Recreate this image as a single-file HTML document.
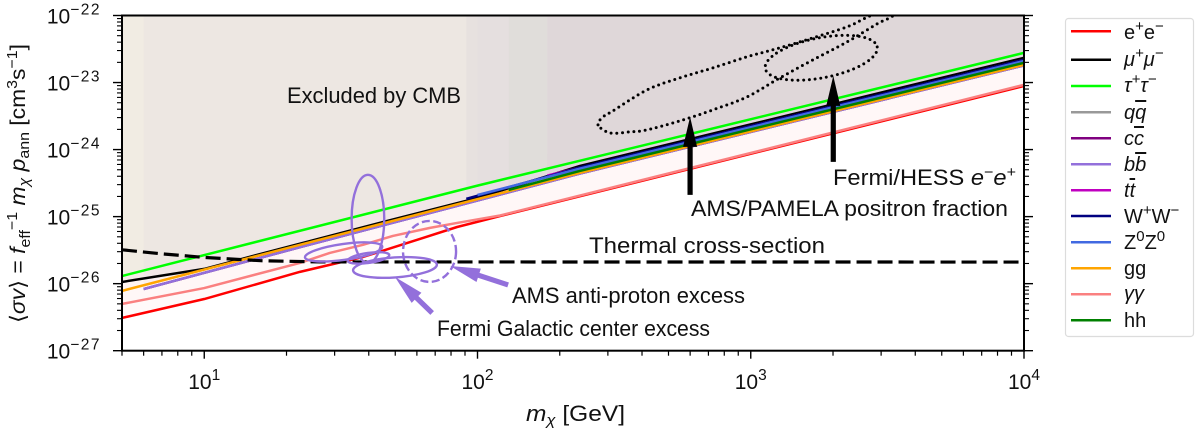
<!DOCTYPE html>
<html lang="en">
<head>
<meta charset="utf-8">
<title>Dark matter annihilation cross-section limits</title>
<style>
html,body{margin:0;padding:0;background:#fff;width:1200px;height:428px;overflow:hidden}
svg{display:block;font-family:"Liberation Sans","DejaVu Sans",sans-serif;fill:#111}
.it{font-style:italic}
</style>
</head>
<body>
<svg id="chart" xmlns="http://www.w3.org/2000/svg" width="1200" height="428" viewBox="0 0 1200 428">
  <defs><clipPath id="plot-clip"><rect x="122" y="15.5" width="902" height="335.2"/></clipPath></defs>
  <g id="fills" clip-path="url(#plot-clip)"></g>
  <g id="lines" clip-path="url(#plot-clip)"></g>
  <g id="regions" clip-path="url(#plot-clip)"></g>
  <g id="arrows"></g>
  <g id="axes"></g>

  <text x="287" y="103" font-size="22" textLength="174" lengthAdjust="spacingAndGlyphs">Excluded by CMB</text>
  <text x="589" y="253" font-size="22" textLength="236" lengthAdjust="spacingAndGlyphs">Thermal cross-section</text>
  <text x="512" y="303" font-size="22" textLength="233" lengthAdjust="spacingAndGlyphs">AMS anti-proton excess</text>
  <text x="437" y="336" font-size="22" textLength="273" lengthAdjust="spacingAndGlyphs">Fermi Galactic center excess</text>
  <text x="691" y="216" font-size="22" textLength="317" lengthAdjust="spacingAndGlyphs">AMS/PAMELA positron fraction</text>
  <text x="833" y="185" font-size="22" textLength="183" lengthAdjust="spacingAndGlyphs">Fermi/HESS <tspan class="it">e</tspan><tspan font-size="15" dy="-8">−</tspan><tspan class="it" dy="8">e</tspan><tspan font-size="15" dy="-8">+</tspan></text>

  <text x="526" y="421" font-size="22" textLength="99" lengthAdjust="spacingAndGlyphs"><tspan class="it">m</tspan><tspan class="it" font-size="15" dy="4">χ</tspan><tspan dy="-4"> [GeV]</tspan></text>
  <text transform="translate(25,323) rotate(-90)" font-size="21.5" textLength="279" lengthAdjust="spacingAndGlyphs">⟨<tspan class="it">σv</tspan>⟩ = <tspan class="it">f</tspan><tspan font-size="15" dy="5">eff</tspan><tspan font-size="15" dy="-13">−1</tspan><tspan dy="8"> </tspan><tspan class="it">m</tspan><tspan class="it" font-size="15" dy="4">χ</tspan><tspan class="it" dy="-4"> p</tspan><tspan font-size="15" dy="4">ann</tspan><tspan dy="-4">  [cm</tspan><tspan font-size="15" dy="-8">3</tspan><tspan dy="8">s</tspan><tspan font-size="15" dy="-8">−1</tspan><tspan dy="8">]</tspan></text>

  <g font-size="20">
    <rect x="1065.5" y="18.5" width="128" height="318" rx="3" fill="#fff" stroke="#dcdcdc" stroke-width="1.2"/>
    <g><line x1="1071" x2="1111" y1="31.3" y2="31.3" stroke="#ff0000" stroke-width="2.5"/><text x="1124" y="39">e<tspan font-size="15" dy="-8">+</tspan><tspan dy="8">e</tspan><tspan font-size="15" dy="-8">−</tspan></text></g>
    <g><line x1="1071" x2="1111" y1="59.7" y2="59.7" stroke="#000" stroke-width="2.5"/><text x="1124" y="66" class="it">μ<tspan font-size="15" dy="-8">+</tspan><tspan dy="8">μ</tspan><tspan font-size="15" dy="-8">−</tspan></text></g>
    <g><line x1="1071" x2="1111" y1="86" y2="86" stroke="#00ff00" stroke-width="2.5"/><text x="1124" y="92" class="it">τ<tspan font-size="15" dy="-8">+</tspan><tspan dy="8">τ</tspan><tspan font-size="15" dy="-8">−</tspan></text></g>
    <g><line x1="1071" x2="1111" y1="112.3" y2="112.3" stroke="#999" stroke-width="2.5"/><text x="1124" y="119" class="it">q<tspan text-decoration="overline">q</tspan></text></g>
    <g><line x1="1071" x2="1111" y1="138.3" y2="138.3" stroke="#800080" stroke-width="2.5"/><text x="1124" y="145" class="it">c<tspan text-decoration="overline">c</tspan></text></g>
    <g><line x1="1071" x2="1111" y1="164.3" y2="164.3" stroke="#9370db" stroke-width="2.5"/><text x="1124" y="171" class="it">b<tspan text-decoration="overline">b</tspan></text></g>
    <g><line x1="1071" x2="1111" y1="190.3" y2="190.3" stroke="#c000c0" stroke-width="2.5"/><text x="1124" y="197" class="it">t<tspan text-decoration="overline">t</tspan></text></g>
    <g><line x1="1071" x2="1111" y1="216" y2="216" stroke="#000080" stroke-width="2.5"/><text x="1124" y="223">W<tspan font-size="15" dy="-8">+</tspan><tspan dy="8">W</tspan><tspan font-size="15" dy="-8">−</tspan></text></g>
    <g><line x1="1071" x2="1111" y1="242.3" y2="242.3" stroke="#4169e1" stroke-width="2.5"/><text x="1124" y="249">Z<tspan font-size="15" dy="-8">0</tspan><tspan dy="8">Z</tspan><tspan font-size="15" dy="-8">0</tspan></text></g>
    <g><line x1="1071" x2="1111" y1="268.3" y2="268.3" stroke="#ffa500" stroke-width="2.5"/><text x="1124" y="275">gg</text></g>
    <g><line x1="1071" x2="1111" y1="294.3" y2="294.3" stroke="#fa8080" stroke-width="2.5"/><text x="1124" y="300" class="it">γγ</text></g>
    <g><line x1="1071" x2="1111" y1="320.3" y2="320.3" stroke="#008000" stroke-width="2.5"/><text x="1124" y="327">hh</text></g>
  </g>
</svg>
<script>
// ---- data: annihilation channels ----
const massEE = [5, 10, 22.4, 38.1, 63.2, 84.2, 121, 10000];
const sigmaEE = [3.08e-27, 5.9e-27, 1.5e-26, 2.5e-26, 4.8e-26, 7.0e-26, 1.02e-25, 8.9e-24];
const massMuMu = [5, 10, 13.5, 45, 100, 237, 10000];
const sigmaMuMu = [1.06e-26, 1.66e-26, 2.3e-26, 8.3e-26, 1.9e-25, 5.7e-25, 2.34e-23];
const massTauTau = [5, 100, 10000];
const sigmaTauTau = [1.3e-26, 2.9e-25, 2.77e-23];
const massQQ = [6, 22.4, 237, 10000];
const sigmaQQ = [8.3e-27, 3.5e-26, 4.4e-25, 1.8e-23];
const massCC = [6, 22.4, 237, 10000];
const sigmaCC = [8.3e-27, 3.5e-26, 4.4e-25, 1.8e-23];
const massBB = [6, 22.4, 237, 10000];
const sigmaBB = [8.3e-27, 3.5e-26, 4.4e-25, 1.8e-23];
const massTT = [180, 10000];
const sigmaTT = [4.1e-25, 2.18e-23];
const massWW = [91, 237, 10000];
const sigmaWW = [1.84e-25, 5.4e-25, 2.18e-23];
const massZZ = [100, 237, 10000];
const sigmaZZ = [2.1e-25, 5.2e-25, 2.1e-23];
const massGG = [5, 22.4, 237, 10000];
const sigmaGG = [7.8e-27, 3.8e-26, 4.5e-25, 1.84e-23];
const massGammaGamma = [5, 10, 22.4, 28.8, 38.1, 49, 67, 84.2, 121, 10000];
const sigmaGammaGamma = [4.98e-27, 8.6e-27, 2.04e-26, 2.87e-26, 3.8e-26, 5.15e-26, 6.8e-26, 8.05e-26, 1.04e-25, 9.25e-24];
const massHH = [130, 237, 10000];
const sigmaHH = [2.5e-25, 4.8e-25, 1.97e-23];
const massThermal = [5, 6.9, 10, 16.1, 26.6, 10000];
const sigmaThermal = [3.2e-26, 2.8e-26, 2.46e-26, 2.2e-26, 2.11e-26, 2.1e-26];

// ---- signal regions (log10 mass, log10 sigma, semi-axes in decades, tilt) ----
const regionLogMass = [1.599, 1.510, 1.601, 1.698, 1.8245, 3.258];
const regionLogSigma = [-25.034, -25.527, -25.616, -25.758, -25.519, -22.631];
const regionSemiMass = [0.0597, 0.1428, 0.0769, 0.1537, 0.097, 0.2086];
const regionSemiSigma = [0.657, 0.119, 0.0746, 0.149, 0.455, 0.2985];
const regionTilt = [0, -8, -8, -4, 0, -11];
const regionKind = ['solid', 'solid', 'solid', 'solid', 'dashed', 'dotted'];

// ---- AMS/PAMELA contour (log10 mass, log10 sigma) ----
const contourLogMass = [2.441, 2.460, 2.496, 2.621, 2.741, 2.862, 2.987, 3.107, 3.228, 3.353, 3.430, 3.547, 3.602, 3.565, 3.521, 3.463, 3.353, 3.228, 3.107, 2.987, 2.862, 2.741, 2.621, 2.558, 2.485, 2.441];
const contourLogSigma = [-23.631, -23.512, -23.422, -23.109, -22.930, -22.781, -22.616, -22.482, -22.333, -22.169, -22.019, -21.81, -21.721, -21.825, -22.004, -22.124, -22.393, -22.661, -22.930, -23.213, -23.407, -23.572, -23.706, -23.736, -23.751, -23.676];

// ---- annotation arrows (log10 values) ----
const arrowTailLogMass = [2.778, 3.302, 2.112, 1.834];
const arrowTailLogSigma = [-24.676, -24.184, -26.019, -26.437];
const arrowTipLogMass = [2.778, 3.302, 1.900, 1.698];
const arrowTipLogSigma = [-23.512, -22.9, -25.736, -25.9];
const arrowColor = ['#000', '#000', '#9370db', '#9370db'];

// ---- ticks ----
const xTickExponents = [1, 2, 3, 4];
const yTickExponents = [-27, -26, -25, -24, -23, -22];
const minorMultipliers = [2, 3, 4, 5, 6, 7, 8, 9];

const seriesMass = [massEE, massMuMu, massTauTau, massQQ, massCC, massBB, massTT, massWW, massZZ, massGG, massGammaGamma, massHH];
const seriesSigma = [sigmaEE, sigmaMuMu, sigmaTauTau, sigmaQQ, sigmaCC, sigmaBB, sigmaTT, sigmaWW, sigmaZZ, sigmaGG, sigmaGammaGamma, sigmaHH];
const seriesKey = ['ee', 'mumu', 'tautau', 'qq', 'cc', 'bb', 'tt', 'ww', 'zz', 'gg', 'gamma-gamma', 'hh'];
const seriesColor = ['#ff0000', '#000000', '#00ff00', '#999999', '#800080', '#9370db', '#c000c0', '#000080', '#4169e1', '#ffa500', '#fa8080', '#008000'];
const seriesFillAlpha = [0.025, 0.035, 0.02, 0, 0, 0.035, 0.025, 0.025, 0.01, 0.025, 0.015, 0.02];

const NS = 'http://www.w3.org/2000/svg';
const plotLeft = 122, plotRight = 1024, plotTop = 15.5, plotBottom = 350.7;
const xMin = 5, xMax = 10000, yMin = 1e-27, yMax = 1e-22;
function xLog(l) { return plotLeft + (l - Math.log10(xMin)) / (Math.log10(xMax) - Math.log10(xMin)) * (plotRight - plotLeft); }
function yLog(l) { return plotBottom - (l - Math.log10(yMin)) / (Math.log10(yMax) - Math.log10(yMin)) * (plotBottom - plotTop); }
function xScale(m) { return xLog(Math.log10(m)); }
function yScale(s) { return yLog(Math.log10(s)); }
const xDecade = xLog(1) - xLog(0);
const yDecade = yLog(0) - yLog(1);
function make(tag, attrs, parent) {
  const el = document.createElementNS(NS, tag);
  for (const k in attrs) el.setAttribute(k, attrs[k]);
  parent.appendChild(el);
  return el;
}
const fillsG = document.getElementById('fills');
const linesG = document.getElementById('lines');
const regionsG = document.getElementById('regions');
const arrowsG = document.getElementById('arrows');
const axesG = document.getElementById('axes');

seriesMass.forEach(function (mass, i) {
  const sigma = seriesSigma[i];
  const pts = mass.map(function (m, j) { return xScale(m).toFixed(2) + ' ' + yScale(sigma[j]).toFixed(2); });
  if (seriesFillAlpha[i] > 0) {
    const d = 'M' + pts.join('L') + 'L' + xScale(mass[mass.length - 1]).toFixed(2) + ' ' + plotTop + 'L' + xScale(mass[0]).toFixed(2) + ' ' + plotTop + 'Z';
    const f = make('path', { d: d, fill: seriesColor[i], 'fill-opacity': seriesFillAlpha[i], stroke: 'none' }, fillsG);
    
    
  }
});
seriesMass.forEach(function (mass, i) {
  const sigma = seriesSigma[i];
  const pts = mass.map(function (m, j) { return xScale(m).toFixed(2) + ' ' + yScale(sigma[j]).toFixed(2); });
  const l = make('path', { d: 'M' + pts.join('L'), fill: 'none', stroke: seriesColor[i], 'stroke-width': 2.5, 'stroke-linejoin': 'round' }, linesG);
  
  
});
const thermalPts = massThermal.map(function (m, j) { return xScale(m).toFixed(2) + ' ' + yScale(sigmaThermal[j]).toFixed(2); });
const thermalLine = make('path', { d: 'M' + thermalPts.join('L'), fill: 'none', stroke: '#000', 'stroke-width': 3.2, 'stroke-dasharray': '15 6' }, linesG);



regionLogMass.forEach(function (lm, i) {
  const cx = xLog(lm), cy = yLog(regionLogSigma[i]);
  const kind = regionKind[i];
  const attrs = {
    cx: cx.toFixed(2), cy: cy.toFixed(2),
    rx: (regionSemiMass[i] * xDecade).toFixed(2), ry: (regionSemiSigma[i] * yDecade).toFixed(2),
    transform: 'rotate(' + regionTilt[i] + ' ' + cx.toFixed(2) + ' ' + cy.toFixed(2) + ')',
    fill: 'none',
    stroke: kind === 'dotted' ? '#000' : '#9370db',
    'stroke-width': kind === 'dotted' ? 3 : 2.4
  };
  if (kind === 'dashed') attrs['stroke-dasharray'] = '8 3.5';
  if (kind === 'dotted') { attrs['stroke-dasharray'] = '0 5.7'; attrs['stroke-linecap'] = 'round'; }
  const e = make('ellipse', attrs, regionsG);
  
  
});

// smooth closed curve through the contour points
const cPts = contourLogMass.slice(0, -1).map(function (lm, i) { return [xLog(lm), yLog(contourLogSigma[i])]; });
let contourD = 'M' + cPts[0][0].toFixed(2) + ' ' + cPts[0][1].toFixed(2);
for (let i = 0; i < cPts.length; i++) {
  const n = cPts.length;
  const p0 = cPts[(i - 1 + n) % n], p1 = cPts[i], p2 = cPts[(i + 1) % n], p3 = cPts[(i + 2) % n];
  contourD += 'C' + (p1[0] + (p2[0] - p0[0]) / 6).toFixed(2) + ' ' + (p1[1] + (p2[1] - p0[1]) / 6).toFixed(2) + ' ' +
    (p2[0] - (p3[0] - p1[0]) / 6).toFixed(2) + ' ' + (p2[1] - (p3[1] - p1[1]) / 6).toFixed(2) + ' ' +
    p2[0].toFixed(2) + ' ' + p2[1].toFixed(2);
}
const contour = make('path', { d: contourD + 'Z', fill: 'none', stroke: '#000', 'stroke-width': 3, 'stroke-dasharray': '0 5.7', 'stroke-linecap': 'round' }, regionsG);



arrowTailLogMass.forEach(function (lm, i) {
  const x1 = xLog(lm), y1 = yLog(arrowTailLogSigma[i]);
  const x2 = xLog(arrowTipLogMass[i]), y2 = yLog(arrowTipLogSigma[i]);
  const len = Math.hypot(x2 - x1, y2 - y1);
  const ux = (x2 - x1) / len, uy = (y2 - y1) / len;
  const hl = 30, hw = 7, sw = 2.6;
  const bx = x2 - ux * hl, by = y2 - uy * hl;
  const px = -uy, py = ux;
  const p = [
    [x1 + px * sw, y1 + py * sw], [bx + px * sw, by + py * sw], [bx + px * hw, by + py * hw],
    [x2, y2],
    [bx - px * hw, by - py * hw], [bx - px * sw, by - py * sw], [x1 - px * sw, y1 - py * sw]
  ].map(function (q) { return q[0].toFixed(2) + ',' + q[1].toFixed(2); }).join(' ');
  const a = make('polygon', { points: p, fill: arrowColor[i] }, arrowsG);
  
  
});

function tick(x1, y1, x2, y2, w) {
  const t = make('line', { x1: x1, y1: y1, x2: x2, y2: y2, stroke: '#000', 'stroke-width': w }, axesG);
  
  
}
function powerLabel(x, y, anchor, exponent, name) {
  const t = make('text', { x: x, y: y, 'text-anchor': anchor, 'font-size': 21 }, axesG);
  
  
  t.appendChild(document.createTextNode('10'));
  const s = make('tspan', { 'font-size': 15.5, dy: -9, 'letter-spacing': exponent < 0 ? 1.5 : 0 }, t);
  s.textContent = String(exponent).replace('-', '\u2212');
}
xTickExponents.forEach(function (e) {
  const x = xLog(e);
  tick(x, plotBottom, x, plotBottom + 8, 1.4);
  powerLabel(x - 16, plotBottom + 38.5, 'start', e, 'x-tick-label-' + e);
});
for (let e = 0; e <= 3; e++) {
  minorMultipliers.forEach(function (k) {
    const l = e + Math.log10(k);
    if (l >= Math.log10(xMin) && l <= Math.log10(xMax)) {
      const x = xLog(l);
      tick(x, plotBottom, x, plotBottom + 5, 1.2);
    }
  });
}
yTickExponents.forEach(function (e) {
  const y = yLog(e);
  tick(plotLeft - 9, y, plotLeft, y, 1.4);
  tick(plotRight, y, plotRight + 9, y, 1.4);
  powerLabel(101, y + 8, 'end', e, 'y-tick-label-' + Math.abs(e));
  if (e < -22) {
    minorMultipliers.forEach(function (k) {
      const ym = yLog(e + Math.log10(k));
      tick(plotLeft - 5, ym, plotLeft, ym, 1.1);
      tick(plotRight, ym, plotRight + 5, ym, 1.1);
    });
  }
});
const frame = make('rect', { x: plotLeft, y: plotTop, width: plotRight - plotLeft, height: plotBottom - plotTop, fill: 'none', stroke: '#000', 'stroke-width': 2 }, axesG);


</script>
</body>
</html>
